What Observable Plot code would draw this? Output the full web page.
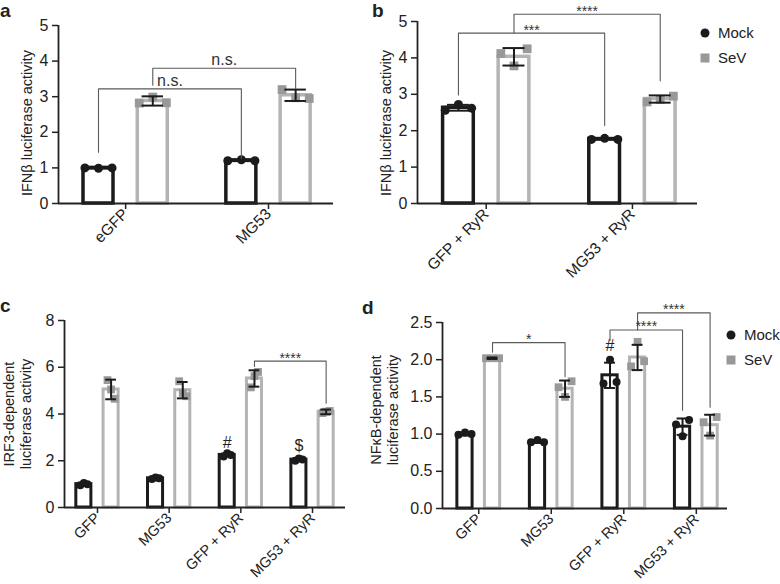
<!DOCTYPE html>
<html><head><meta charset="utf-8">
<script src="https://cdn.jsdelivr.net/npm/d3@7"></script>
<script src="https://cdn.jsdelivr.net/npm/@observablehq/plot@0.6"></script>
<style>
body{margin:0;background:#fff;font-family:"Liberation Sans",Arial,Helvetica,sans-serif;color:#222;}
#root{position:relative;width:780px;height:584px;overflow:hidden;background:#fff;}
.panel{position:absolute;}
.letter{position:absolute;font-weight:bold;font-size:19px;line-height:1;}
.ytitle{position:absolute;font-size:14.5px;line-height:17px;text-align:center;white-space:nowrap;transform:translate(-50%,-50%) rotate(-90deg);}
.leg{position:absolute;font-size:15px;line-height:1;white-space:nowrap;}
</style></head><body><div id="root"></div>
<script>
// ---------------- DATA ----------------
const seriesNames = ["Mock", "SeV"];

// Panel a: IFNβ luciferase activity
const aGroups = ["eGFP", "MG53"];
const aMockMean = [1.00, 1.21];
const aMockSD = [0.02, 0.02];
const aMockPts = [[1.00, 0.99, 1.00], [1.20, 1.23, 1.20]];
const aSevMean = [2.88, 3.04];
const aSevSD = [0.13, 0.16];
const aSevPts = [[2.82, 2.99, 2.83], [3.20, 2.97, 2.95]];
const aBrackets = [
  {g1: 0, s1: 0, g2: 1, s2: 0, top: 3.22, y1: 1.44, y2: 1.27, label: "n.s."},
  {g1: 0, s1: 1, g2: 1, s2: 1, top: 3.80, y1: 3.32, y2: 3.23, label: "n.s."}
];
const aTicks = [0, 1, 2, 3, 4, 5];

// Panel b: IFNβ luciferase activity
const bGroups = ["GFP + RyR", "MG53 + RyR"];
const bMockMean = [2.63, 1.77];
const bMockSD = [0.08, 0.02];
const bMockPts = [[2.56, 2.72, 2.62], [1.76, 1.79, 1.76]];
const bSevMean = [4.03, 2.87];
const bSevSD = [0.24, 0.10];
const bSevPts = [[4.12, 3.78, 4.25], [2.79, 2.86, 2.95]];
const bBrackets = [
  {g1: 0, s1: 0, g2: 1, s2: 0, top: 4.68, y1: 2.98, y2: 2.14, label: "***"},
  {g1: 0, s1: 1, g2: 1, s2: 1, top: 5.20, y1: 4.68, y2: 3.37, label: "****"}
];
const bTicks = [0, 1, 2, 3, 4, 5];

// Panel c: IRF3-dependent luciferase activity
const cGroups = ["GFP", "MG53", "GFP + RyR", "MG53 + RyR"];
const cMockMean = [1.00, 1.25, 2.25, 2.05];
const cMockSD = [0.05, 0.04, 0.06, 0.05];
const cMockPts = [[0.95, 1.05, 1.00], [1.22, 1.28, 1.25], [2.18, 2.32, 2.25], [2.00, 2.10, 2.05]];
const cSevMean = [5.05, 5.02, 5.52, 4.09];
const cSevSD = [0.42, 0.35, 0.35, 0.10];
const cSevPts = [[5.45, 5.05, 4.65], [5.40, 4.90, 4.76], [5.14, 5.62, 5.80], [4.04, 4.10, 4.13]];
const cMarkers = [{g: 2, y: 2.78, label: "#"}, {g: 3, y: 2.62, label: "$"}];
const cBrackets = [
  {g1: 2, s1: 1, g2: 3, s2: 1, top: 6.26, y1: 6.03, y2: 4.46, label: "****"}
];
const cTicks = [0, 2, 4, 6, 8];

// Panel d: NFκB-dependent luciferase activity
const dGroups = ["GFP", "MG53", "GFP + RyR", "MG53 + RyR"];
const dMockMean = [1.00, 0.90, 1.79, 1.10];
const dMockSD = [0.02, 0.02, 0.17, 0.11];
const dMockPts = [[0.99, 1.02, 1.00], [0.89, 0.92, 0.89], [1.68, 2.00, 1.70], [1.13, 0.97, 1.19]];
const dSevMean = [2.02, 1.61, 2.03, 1.12];
const dSevSD = [0.01, 0.11, 0.17, 0.14];
const dSevPts = [[2.02, 2.02, 2.02], [1.63, 1.50, 1.71], [1.91, 2.24, 1.98], [1.16, 0.98, 1.23]];
const dMarkers = [{g: 2, y: 2.19, label: "#"}];
const dBrackets = [
  {g1: 0, s1: 1, g2: 1, s2: 1, top: 2.23, y1: 2.10, y2: 1.77, label: "*"},
  {g1: 2, s1: 0, g2: 3, s2: 0, top: 2.40, y1: 2.26, y2: 1.32, label: "****"},
  {g1: 2, s1: 1, g2: 3, s2: 1, top: 2.63, y1: 2.40, y2: 1.36, label: "****"}
];
const dTicks = [0, 0.5, 1.0, 1.5, 2.0, 2.5];

// ---------------- DRAWING ----------------
const MOCK = "#1b1b1b", SEV_BAR = "#b4b4b4", SEV_PT = "#999999", AXIS = "#222", BRK = "#5a5a5a";
const OFF = 0.19, BW = 0.21, CAP = 0.075;
const FONT = "'Liberation Sans', Arial, sans-serif";
const root = document.getElementById("root");

function panel(o) {
  const xOf = (g, s) => g + (s === 0 ? -OFF : OFF);
  const bars = [];
  const pts = [];
  o.groups.forEach((name, i) => {
    bars.push({x: xOf(i, 0), y: o.mockMean[i], sd: o.mockSD[i], s: seriesNames[0]});
    bars.push({x: xOf(i, 1), y: o.sevMean[i], sd: o.sevSD[i], s: seriesNames[1]});
    o.mockPts[i].forEach((v, j) => pts.push({x: xOf(i, 0) + (j - 1) * o.jit, y: v, s: seriesNames[0]}));
    o.sevPts[i].forEach((v, j) => pts.push({x: xOf(i, 1) + (j - 1) * o.jit, y: v, s: seriesNames[1]}));
  });
  const caps = bars.flatMap(d => [{x: d.x, y: d.y + d.sd}, {x: d.x, y: d.y - d.sd}]);
  const brLines = o.brackets.map((b, k) => {
    const xa = xOf(b.g1, b.s1), xb = xOf(b.g2, b.s2);
    return [{k, x: xa, y: b.y1}, {k, x: xa, y: b.top}, {k, x: xb, y: b.top}, {k, x: xb, y: b.y2}];
  }).flat();
  const brLabels = o.brackets.map(b => ({x: (xOf(b.g1, b.s1) + xOf(b.g2, b.s2)) / 2, y: b.top, label: b.label}));
  const yMax = o.yTicks[o.yTicks.length - 1];
  const marks = [
    Plot.rect(bars, {x1: d => d.x - BW / 2, x2: d => d.x + BW / 2, y1: 0, y2: "y", fill: "white",
      stroke: d => d.s === "Mock" ? MOCK : SEV_BAR, strokeWidth: o.sw}),
    Plot.dot(pts.filter(d => d.s === "Mock"), {x: "x", y: "y", r: o.r, fill: MOCK, symbol: "circle"}),
    Plot.dot(pts.filter(d => d.s === "SeV"), {x: "x", y: "y", r: o.r * 1.1, fill: SEV_PT, symbol: "square"}),
    Plot.ruleX(bars, {x: "x", y1: d => d.y - d.sd, y2: d => d.y + d.sd, stroke: MOCK, strokeWidth: 2}),
    Plot.ruleY(caps, {y: "y", x1: d => d.x - CAP, x2: d => d.x + CAP, stroke: MOCK, strokeWidth: 2}),
    Plot.line(brLines, {x: "x", y: "y", z: "k", stroke: BRK, strokeWidth: 1.1, curve: "linear"}),
    Plot.text(brLabels.filter(d => d.label === "n.s."), {x: "x", y: "y", text: "label", dy: -8, fontSize: 16, fill: "#333"}),
    Plot.text(brLabels.filter(d => d.label !== "n.s."), {x: "x", y: "y", text: "label", dy: -3, fontSize: 14, fill: "#333"}),
    Plot.ruleX([o.xDomain[0]], {y1: 0, y2: yMax, stroke: AXIS, strokeWidth: 1.8}),
    Plot.ruleY([0], {x1: o.xDomain[0], x2: o.xDomain[1], stroke: AXIS, strokeWidth: 1.8}),
    Plot.axisY({ticks: o.yTicks, tickFormat: o.yFmt, tickSize: 6, tickPadding: 4, stroke: AXIS, strokeWidth: 1.5,
      label: null, fill: "#222", fontSize: 16}),
    Plot.axisX({ticks: o.groups.map((_, i) => i), tickFormat: i => o.groups[i], tickSize: 6, tickPadding: 2,
      tickRotate: -45, stroke: AXIS, strokeWidth: 1.5, label: null, fill: "#222", fontSize: o.xfs})
  ];
  if (o.markers) {
    marks.push(Plot.text(o.markers, {x: d => xOf(d.g, 0), y: "y", text: "label", fontSize: 16, fill: "#222"}));
  }
  const svg = Plot.plot({
    width: o.width, height: o.height,
    marginLeft: o.ml, marginRight: o.mr, marginTop: o.mt, marginBottom: o.mb,
    x: {type: "linear", domain: o.xDomain, axis: null},
    y: {domain: [0, yMax], axis: null},
    style: {fontFamily: FONT, fontSize: "16px", background: "white", overflow: "visible"},
    marks
  });
  svg.classList.add("panel");
  svg.style.left = o.left + "px";
  svg.style.top = o.top + "px";
  root.appendChild(svg);
}

panel({groups: aGroups, mockMean: aMockMean, mockSD: aMockSD, mockPts: aMockPts, sevMean: aSevMean, sevSD: aSevSD, sevPts: aSevPts,
  brackets: aBrackets, yTicks: aTicks, yFmt: d3.format("d"), xDomain: [-0.47, 1.455], xfs: 15.5,
  left: 0, top: 0, width: 385, height: 290, ml: 58, mr: 52, mt: 25, mb: 87, sw: 3.5, r: 4.5, jit: 0.095});
panel({groups: bGroups, mockMean: bMockMean, mockSD: bMockSD, mockPts: bMockPts, sevMean: bSevMean, sevSD: bSevSD, sevPts: bSevPts,
  brackets: bBrackets, yTicks: bTicks, yFmt: d3.format("d"), xDomain: [-0.47, 1.445], xfs: 15.5,
  left: 360, top: 0, width: 420, height: 290, ml: 57, mr: 83, mt: 21, mb: 87, sw: 3.5, r: 4.5, jit: 0.09});
panel({groups: cGroups, mockMean: cMockMean, mockSD: cMockSD, mockPts: cMockPts, sevMean: cSevMean, sevSD: cSevSD, sevPts: cSevPts,
  brackets: cBrackets, markers: cMarkers, yTicks: cTicks, yFmt: d3.format("d"), xDomain: [-0.46, 3.46], xfs: 14.5,
  left: 0, top: 290, width: 360, height: 294, ml: 64, mr: 15, mt: 30, mb: 77, sw: 3, r: 4, jit: 0.05});
panel({groups: dGroups, mockMean: dMockMean, mockSD: dMockSD, mockPts: dMockPts, sevMean: dSevMean, sevSD: dSevSD, sevPts: dSevPts,
  brackets: dBrackets, markers: dMarkers, yTicks: dTicks, yFmt: d3.format(".1f"), xDomain: [-0.5, 3.43], xfs: 14.5,
  left: 360, top: 290, width: 420, height: 294, ml: 82, mr: 53, mt: 32, mb: 76, sw: 3, r: 4, jit: 0.09});

// ---------------- TEXT: letters, titles, legends ----------------
function addDiv(cls, html, css) {
  const d = document.createElement("div");
  d.className = cls; d.innerHTML = html;
  Object.assign(d.style, css);
  root.appendChild(d);
  return d;
}
addDiv("letter", "a", {left: "0px", top: "1px"});
addDiv("letter", "b", {left: "372px", top: "1px"});
addDiv("letter", "c", {left: "0px", top: "296px"});
addDiv("letter", "d", {left: "362px", top: "298px"});
addDiv("ytitle", "IFNβ luciferase activity", {left: "27px", top: "123px"});
addDiv("ytitle", "IFNβ luciferase activity", {left: "386px", top: "123px"});
addDiv("ytitle", "IRF3-dependent<br>luciferase activity", {left: "18px", top: "414px"});
addDiv("ytitle", "NFκB-dependent<br>luciferase activity", {left: "385px", top: "410px"});

function legend(x, y) {
  const items = [{name: seriesNames[0], c: MOCK, shape: "circle"}, {name: seriesNames[1], c: SEV_PT, shape: "square"}];
  items.forEach((it, i) => {
    const cy = y + i * 25;
    const mk = it.shape === "circle"
      ? `<svg width="12" height="12" style="position:absolute;left:-6px;top:-6px"><circle cx="6" cy="6" r="4.5" fill="${it.c}"/></svg>`
      : `<svg width="12" height="12" style="position:absolute;left:-6px;top:-6px"><rect x="1.5" y="1.5" width="9" height="9" fill="${it.c}"/></svg>`;
    addDiv("leg", mk, {left: x + "px", top: cy + "px"});
    addDiv("leg", it.name, {left: (x + 13) + "px", top: (cy - 8) + "px"});
  });
}
legend(705, 33);
legend(731, 335);
</script></body></html>
